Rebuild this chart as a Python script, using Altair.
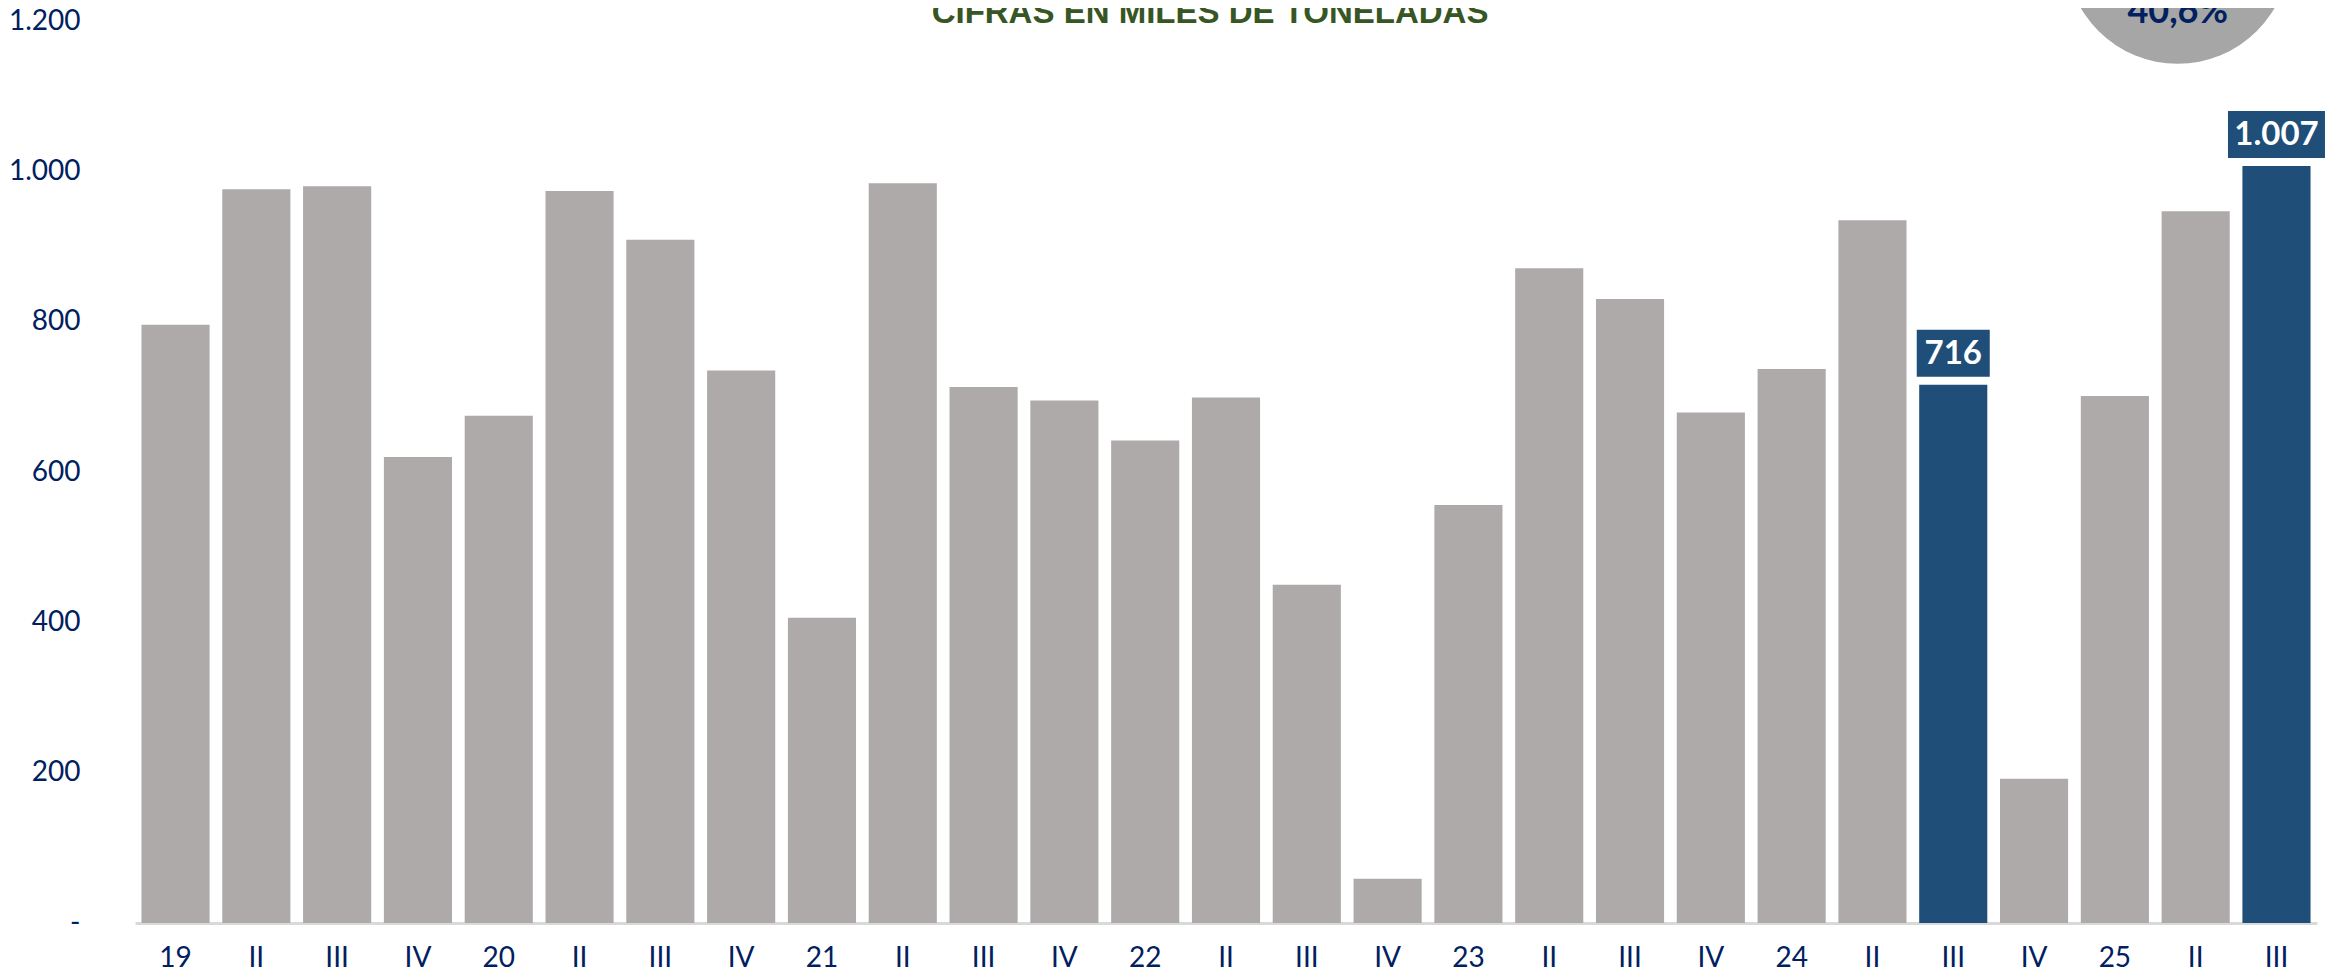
import altair as alt
import pandas as pd

# ---- data ----
periods = ["19", "II", "III", "IV", "20", "II", "III", "IV", "21", "II", "III", "IV",
           "22", "II", "III", "IV", "23", "II", "III", "IV", "24", "II", "III", "IV",
           "25", "II", "III"]
values = [796, 976, 980, 620, 675, 974, 909, 735, 406, 984, 713, 695,
          642, 699, 450, 59, 556, 871, 830, 679, 737, 935, 716, 192,
          701, 947, 1007]
highlighted = [i in (22, 26) for i in range(len(periods))]
value_labels = ["716" if i == 22 else "1.007" if i == 26 else "" for i in range(len(periods))]
y_ticks = [0, 200, 400, 600, 800, 1000, 1200]
title_text = "CIFRAS EN MILES DE TONELADAS"
badge_text = "40,6%"

keys = [f"{p}|{i}" for i, p in enumerate(periods)]
df = pd.DataFrame({"key": keys, "value": values, "hl": highlighted, "label": value_labels})

NAVY = "#002060"
BLUE = "#1F4E79"
GREY = "#AEAAAA"

x_axis = alt.Axis(
    title=None, labelExpr="split(datum.value, '|')[0]", labelAngle=0,
    labelFont="Lato", labelFontSize=28, labelColor=NAVY, labelPadding=43,
    labelBaseline="alphabetic", ticks=False, tickSize=0,
    domainColor="#D9D9D9", domainWidth=3,
)
x_scale = alt.Scale(paddingInner=0.157, paddingOuter=0.08)
x_enc = alt.X("key:N", sort=keys, scale=x_scale, axis=x_axis)
y_scale = alt.Scale(domain=[0, 1200], nice=False, zero=True)
y_axis = alt.Axis(
    title=None, values=y_ticks,
    labelExpr="datum.value == 0 ? '-' : replace(format(datum.value, ','), ',', '.')",
    grid=False, domain=False, ticks=False, tickSize=0, labelPadding=55,
    labelFont="Lato", labelFontSize=28, labelColor=NAVY,
)
y_enc = alt.Y("value:Q", scale=y_scale, axis=y_axis)

base = alt.Chart(df)

bars = base.mark_bar().encode(
    x=x_enc, y=y_enc,
    color=alt.condition("datum.hl", alt.value(BLUE), alt.value(GREY)),
)

boxes = base.transform_filter("datum.label != ''").transform_calculate(
    bw="37 + 12 * length(datum.label)"
).mark_bar(yOffset=-8, y2Offset=-55, color=BLUE).encode(
    x=x_enc, y=alt.Y("value:Q", scale=y_scale), y2=alt.Y2("value:Q"),
    size=alt.Size("bw:Q", scale=None, legend=None),
)

texts = base.transform_filter("datum.label != ''").mark_text(
    yOffset=-31, color="white", font="Lato", fontSize=33, fontWeight="bold",
    baseline="middle", align="center",
).encode(x=x_enc, y=alt.Y("value:Q", scale=y_scale), text="label:N")

badge = alt.Chart(pd.DataFrame({"key": [keys[25]]})).mark_point(
    shape="circle", filled=True, size=50176, color="#A6A6A6", opacity=1, xOffset=-18,
).encode(x=alt.X("key:N", sort=keys, scale=x_scale), y=alt.YDatum(1292, scale=y_scale))

badge_label = alt.Chart(pd.DataFrame({"key": [keys[25]], "t": [badge_text]})).mark_text(
    font="Lato", fontSize=36, fontWeight="bold", color=NAVY, baseline="alphabetic",
    align="center", xOffset=-18,
).encode(x=alt.X("key:N", sort=keys, scale=x_scale), y=alt.YDatum(1197, scale=y_scale), text="t:N")

title_mark = alt.Chart(pd.DataFrame({"key": [keys[13]], "t": [title_text]})).mark_text(
    font="Liberation Sans Narrow, Arial Narrow, Liberation Sans", fontSize=33,
    fontWeight="bold", color="#375623", baseline="alphabetic", align="center", xOffset=-16,
).encode(x=alt.X("key:N", sort=keys, scale=x_scale), y=alt.YDatum(1198, scale=y_scale), text="t:N")

chart = alt.layer(bars, boxes, texts, badge, badge_label, title_mark).properties(
    width=2182, height=902,
    autosize=alt.AutoSizeParams(type="none"),
    padding={"left": 127, "top": 13, "right": 9, "bottom": 48},
).configure_view(stroke=None)

chart.save("out.html", embed_options={"renderer": "svg", "actions": False})
